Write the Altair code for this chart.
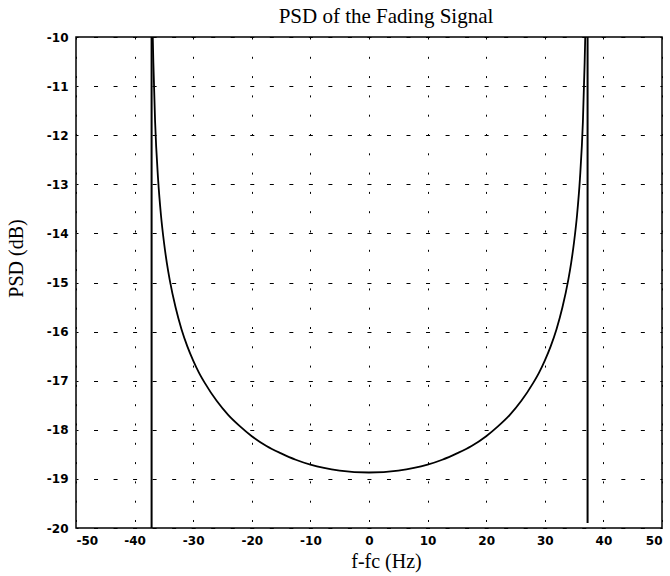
import altair as alt
import pandas as pd

# Curve
freq = [-36.9, -36.8, -36.5, -36.0, -35.5, -35.0, -34.5, -34.0, -33.0, -32.0, -31.0,
        -30.0, -29.0, -28.0, -26.0, -24.0, -22.0, -20.0, -17.5, -15.0, -12.5, -10.0,
        -5.0, 0.0, 5.0, 10.0, 12.5, 15.0, 17.5, 20.0, 22.0, 24.0, 26.0, 28.0, 29.0,
        30.0, 31.0, 32.0, 33.0, 34.0, 34.5, 35.0, 35.5, 36.0, 36.5, 36.8, 36.9]
psd = [-10.0, -10.52, -11.73, -12.88, -13.63, -14.17, -14.60, -14.95, -15.51, -15.95, -16.30,
       -16.59, -16.84, -17.05, -17.41, -17.70, -17.93, -18.13, -18.33, -18.48, -18.61, -18.71,
       -18.83, -18.87, -18.83, -18.71, -18.61, -18.48, -18.33, -18.13, -17.93, -17.70, -17.41,
       -17.05, -16.84, -16.59, -16.30, -15.95, -15.51, -14.95, -14.60, -14.17, -13.63, -12.88,
       -11.73, -10.52, -10.0]

# Vertical edges of the spectrum
edge_freq = [-37.1, 37.3]
edge_low = [-20.0, -19.9]
edge_high = [-10.0, -10.0]

x_ticks = [-50, -40, -30, -20, -10, 0, 10, 20, 30, 40, 50]
y_ticks = [-20, -19, -18, -17, -16, -15, -14, -13, -12, -11, -10]

curve_df = pd.DataFrame({"f": freq, "psd": psd})
edge_df = pd.DataFrame({"f": edge_freq, "lo": edge_low, "hi": edge_high})

x_scale = alt.Scale(domain=[-50, 50], nice=False, zero=False)
y_scale = alt.Scale(domain=[-20, -10], nice=False, zero=False)

x_axis = alt.Axis(
    values=x_ticks, title="f-fc (Hz)", labelExpr="'' + datum.value",
    grid=True, gridDash=[2, 17.3], gridColor="black", gridOpacity=1, gridWidth=1,
    ticks=False, domain=False,
    labelFont="DejaVu Sans", labelFontWeight="bold", labelFontSize=12,
    labelColor="black", labelPadding=7,
    titleFont="Liberation Serif", titleFontSize=20, titleFontWeight="normal",
    titleColor="black", titlePadding=5, titleX=310, titleAlign="center",
)
y_axis = alt.Axis(
    values=y_ticks, title="PSD (dB)", labelExpr="'' + datum.value",
    grid=True, gridDash=[4, 15.53], gridDashOffset=2, gridColor="black",
    gridOpacity=1, gridWidth=1,
    ticks=False, domain=False,
    labelFont="DejaVu Sans", labelFontWeight="bold", labelFontSize=12,
    labelColor="black", labelPadding=8,
    titleFont="Liberation Serif", titleFontSize=20, titleFontWeight="normal",
    titleColor="black", titlePadding=20, titleY=221, titleAlign="center",
)

curve = alt.Chart(curve_df).mark_line(
    color="black", strokeWidth=1.8, interpolate="monotone", clip=True
).encode(
    x=alt.X("f:Q", scale=x_scale, axis=x_axis),
    y=alt.Y("psd:Q", scale=y_scale, axis=y_axis),
)

edges = alt.Chart(edge_df).mark_rule(color="black", strokeWidth=2, clip=True).encode(
    x=alt.X("f:Q", scale=x_scale),
    y=alt.Y("lo:Q", scale=y_scale),
    y2="hi:Q",
)

chart = alt.layer(curve, edges).properties(
    width=586,
    height=491,
    title=alt.TitleParams(
        "PSD of the Fading Signal", font="Liberation Serif", fontSize=21,
        fontWeight="normal", color="black", dx=17, offset=4, anchor="middle",
    ),
    autosize=alt.AutoSizeParams(type="none"),
    padding={"left": 76, "top": 37, "right": 8, "bottom": 48},
    background="white",
).configure_view(stroke="black", strokeWidth=1.5)

chart.save("out.html", embed_options={"renderer": "svg", "actions": False})
